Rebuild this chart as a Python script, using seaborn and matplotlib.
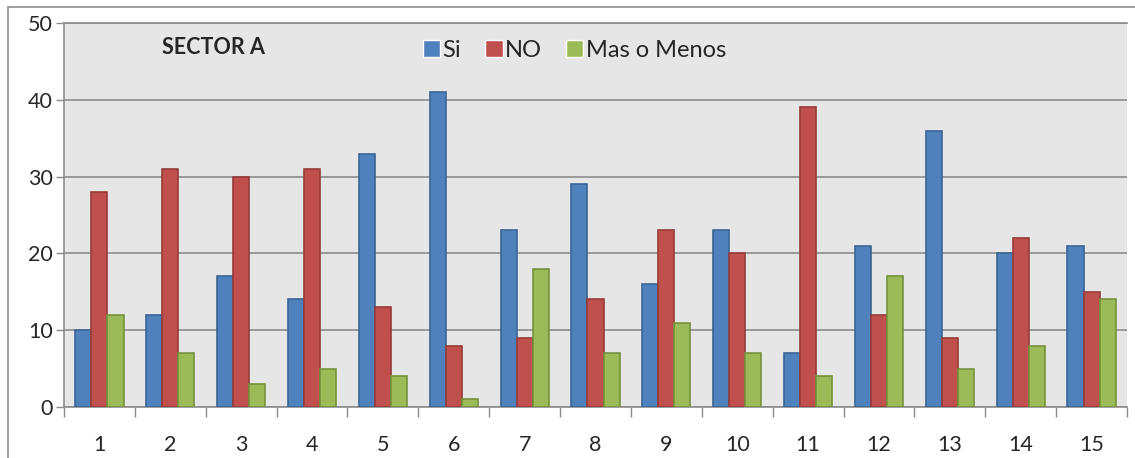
import numpy as np
import pandas as pd
import matplotlib.pyplot as plt
import seaborn as sns
from matplotlib.patches import Rectangle

# values
preguntas = [str(i) for i in range(1, 16)]
si = [10, 12, 17, 14, 33, 41, 23, 29, 16, 23, 7, 21, 36, 20, 21]
no = [28, 31, 30, 31, 13, 8, 9, 14, 23, 20, 39, 12, 9, 22, 15]
mas_o_menos = [12, 7, 3, 5, 4, 1, 18, 7, 11, 7, 4, 17, 5, 8, 14]
series = ["Si", "NO", "Mas o Menos"]

df = pd.DataFrame({"Pregunta": preguntas, "Si": si, "NO": no, "Mas o Menos": mas_o_menos})
df = df.melt(id_vars="Pregunta", var_name="Respuesta", value_name="Cantidad")

sns.set_theme(style="white")
plt.rcParams["font.family"] = ["Lato", "DejaVu Sans"]

fig = plt.figure(figsize=(11.35, 4.58), dpi=100)
ax = fig.add_axes([64 / 1135, 51 / 458, 1063 / 1135, 384 / 458])
ax.set_facecolor("#e6e6e6")

palette = {"Si": "#4f81bd", "NO": "#c0504d", "Mas o Menos": "#9bbb59"}
edges = {"Si": "#3a6595", "NO": "#963c39", "Mas o Menos": "#76923c"}
sns.barplot(data=df, x="Pregunta", y="Cantidad", hue="Respuesta", hue_order=series,
            palette=palette, width=0.68, gap=0, saturation=1, ax=ax, zorder=3)
for cont, name in zip(ax.containers, series):
    for bar in cont:
        bar.set_edgecolor(edges[name])
        bar.set_linewidth(1.2)

ax.set_ylim(0, 50)
ax.set_xlim(-0.5, 14.5)
ax.set_yticks(range(0, 51, 10))
ax.yaxis.grid(True, color="#8c8c8c", linewidth=1.2, zorder=0)
ax.set_axisbelow(True)
ax.set_xlabel("")
ax.set_ylabel("")

ax.set_xticks(np.arange(-0.5, 15, 1), minor=True)
ax.tick_params(axis="x", which="major", length=0, pad=20, labelsize=15.5)
ax.tick_params(axis="x", which="minor", length=7, width=1, color="#8c8c8c", direction="out", bottom=True)
ax.tick_params(axis="y", length=6, width=1, color="#8c8c8c", direction="out", left=True, labelsize=15.5, pad=2)

for side in ["top", "left", "bottom"]:
    ax.spines[side].set_color("#8c8c8c")
    ax.spines[side].set_linewidth(1.2)
ax.spines["right"].set_visible(False)

ax.text(0.092, 0.935, "SECTOR A", transform=ax.transAxes, fontsize=15.5,
        fontweight="bold", va="center", ha="left")

ax.legend(loc="upper center", bbox_to_anchor=(0.48, 1.0), ncol=3, frameon=False,
          fontsize=17, handlelength=0.75, handleheight=0.75, handletextpad=0.1,
          columnspacing=1.0, borderaxespad=0.3)

fig.patches.append(Rectangle((8 / 1135, -0.01), 1.0, 1 - 7 / 458 + 0.01, transform=fig.transFigure,
                             fill=False, edgecolor="#8c8c8c", linewidth=1.2))

fig.savefig("out.png", dpi=100)
